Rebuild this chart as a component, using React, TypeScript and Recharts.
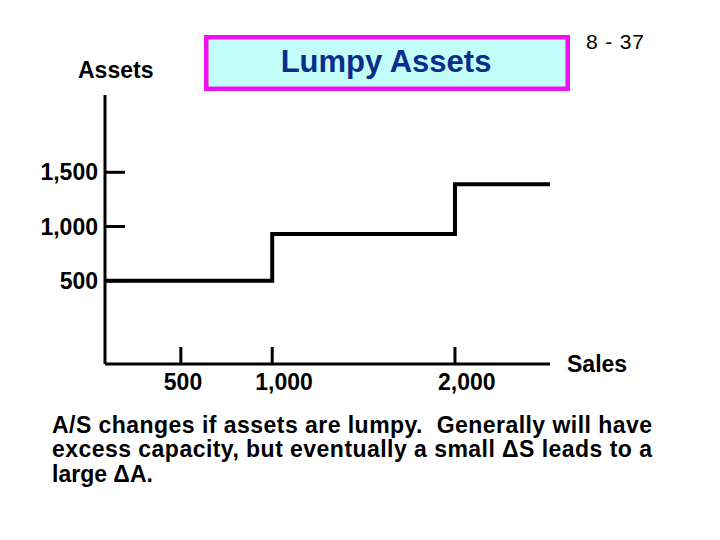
import React from "react";
import { LineChart, Line, XAxis, YAxis } from "recharts";

// Sales breakpoints and the asset level held from each breakpoint onward
const salesPoints = [0, 1000, 2000, 2520];
const assetLevels = [500, 930, 1390, 1390];

// Axis ticks
const xTicks = [500, 1000, 2000];
const yTicks = [500, 1000, 1500];

// Texts
const titleText = "Lumpy Assets";
const pageText = "8 - 37";
const yAxisTitle = "Assets";
const xAxisTitle = "Sales";
const noteLines = [
  "A/S changes if assets are lumpy.  Generally will have",
  "excess capacity, but eventually a small \u0394S leads to a",
  "large \u0394A.",
];

const data = salesPoints.map((s, i) => ({ sales: s, assets: assetLevels[i] }));

const FONT = "'Liberation Sans', Arial, Helvetica, sans-serif";
const fmt = (v: number) => v.toLocaleString("en-US");

const XTick = (props: any) => {
  const { x, y, payload } = props;
  return (
    <g>
      <line x1={x} x2={x} y1={y} y2={y - 17} stroke="#000" strokeWidth={3} />
      <text
        x={x - 17}
        y={y + 26}
        textAnchor="start"
        fontFamily={FONT}
        fontWeight="bold"
        fontSize={23}
        fill="#000"
      >
        {fmt(payload.value)}
      </text>
    </g>
  );
};

const YTick = (props: any) => {
  const { x, y, payload } = props;
  return (
    <g>
      <line x1={x} x2={x + 20} y1={y} y2={y} stroke="#000" strokeWidth={3} />
      <text
        x={x - 7}
        y={y + 8}
        textAnchor="end"
        fontFamily={FONT}
        fontWeight="bold"
        fontSize={23}
        fill="#000"
      >
        {fmt(payload.value)}
      </text>
    </g>
  );
};

export default function App() {
  return (
    <div
      style={{
        position: "absolute",
        left: 0,
        top: 0,
        width: 720,
        height: 540,
        background: "#fff",
        fontFamily: FONT,
      }}
    >
      <LineChart
        width={720}
        height={540}
        data={data}
        margin={{ top: 95, right: 170, bottom: 146, left: 45 }}
      >
        <XAxis
          type="number"
          dataKey="sales"
          domain={[85, 2520]}
          allowDataOverflow
          ticks={xTicks}
          interval={0}
          tick={(p: any) => <XTick {...p} />}
          tickSize={0}
          tickMargin={0}
          tickLine={false}
          height={30}
          axisLine={{ stroke: "#000", strokeWidth: 3 }}
        />
        <YAxis
          type="number"
          domain={[-268, 2213]}
          allowDataOverflow
          ticks={yTicks}
          interval={0}
          tick={(p: any) => <YTick {...p} />}
          tickSize={0}
          tickMargin={0}
          tickLine={false}
          width={60}
          axisLine={{ stroke: "#000", strokeWidth: 3 }}
        />
        <Line
          type="stepAfter"
          dataKey="assets"
          stroke="#000"
          strokeWidth={4}
          dot={false}
          activeDot={false}
          isAnimationActive={false}
        />
      </LineChart>
      <svg
        width={720}
        height={540}
        style={{ position: "absolute", left: 0, top: 0, pointerEvents: "none" }}
      >
        <rect
          x={206.25}
          y={37.25}
          width={361.5}
          height={51.5}
          fill="#c2fdfa"
          stroke="#ee10ee"
          strokeWidth={4.5}
        />
        <text
          x={386}
          y={71.5}
          textAnchor="middle"
          fontFamily={FONT}
          fontWeight="bold"
          fontSize={31}
          fill="#0c2d8c"
        >
          {titleText}
        </text>
        <text x={586} y={48.5} fontFamily={FONT} fontSize={21} fill="#000" textLength={58}>
          {pageText}
        </text>
        <text x={78} y={77.5} fontFamily={FONT} fontWeight="bold" fontSize={23} fill="#000">
          {yAxisTitle}
        </text>
        <text x={567} y={372} fontFamily={FONT} fontWeight="bold" fontSize={23} fill="#000">
          {xAxisTitle}
        </text>
        {noteLines.map((line, i) => (
          <text
            key={i}
            x={52}
            y={432.5 + i * 24.9}
            fontFamily={FONT}
            fontWeight="bold"
            fontSize={23}
            fill="#000"
            textLength={i < 2 ? 600 : undefined}
            lengthAdjust="spacing"
            style={{ whiteSpace: "pre" }}
          >
            {line}
          </text>
        ))}
      </svg>
    </div>
  );
}
